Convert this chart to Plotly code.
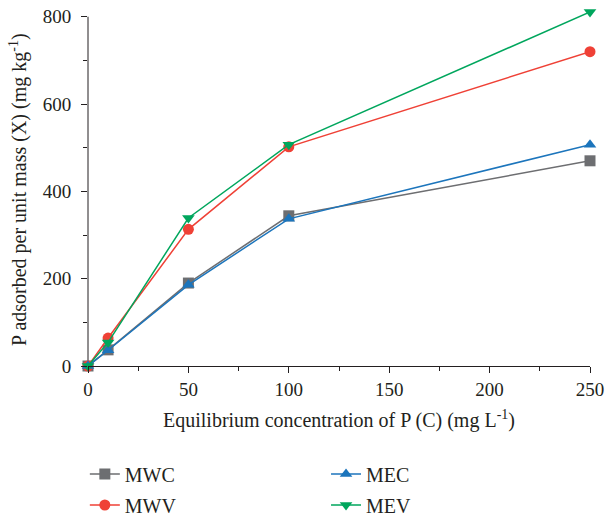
import plotly.graph_objects as go

conc = [0, 10, 50, 100, 250]
mwc = [0, 37, 190, 344, 470]
mwv = [0, 64, 313, 502, 720]
mec = [0, 36, 186, 337, 507]
mev = [0, 54, 339, 507, 811]

names = ["MWC", "MWV", "MEC", "MEV"]
series = [mwc, mwv, mec, mev]
colors = ["#6d6e71", "#ef4136", "#1c75bc", "#00a65d"]
symbols = ["square", "circle", "triangle-up", "triangle-down"]
legends = ["legend", "legend2", "legend3", "legend4"]

FONT = "Liberation Serif"
AX = "#231f20"
YMAX_AXIS = 800
YTOP = 820

fig = go.Figure()
for n, s, c, sym, lg in zip(names, series, colors, symbols, legends):
    fig.add_trace(go.Scatter(
        x=conc, y=s, name=n, mode="lines+markers",
        line=dict(color=c, width=1.5),
        marker=dict(symbol=sym, size=11, color=c),
        cliponaxis=False, legend=lg, showlegend=True,
    ))

def leg(x, y):
    return dict(x=x, y=y, xref="container", yref="container",
                xanchor="left", yanchor="middle",
                font=dict(family=FONT, size=20, color=AX),
                bgcolor="rgba(0,0,0,0)")

fig.add_shape(type="line", xref="paper", yref="y", x0=0, x1=0, y0=0, y1=YMAX_AXIS,
              line=dict(color=AX, width=1), layer="below")

H = 517
W = 606
ML, MR = 88, 16
top_px = 17 - (YTOP - YMAX_AXIS) * (366 - 17) / 800.0
MT = max(0, round(top_px))
plot_w = W - ML - MR
plot_h = H - MT - 151

# y-axis title as a rotated text annotation
fig.add_annotation(
    text="P adsorbed per unit mass (X) (mg kg<sup>-1</sup>)",
    xref="paper", yref="paper",
    x=(18 - ML) / plot_w, y=(H - 151 - 190) / plot_h,
    textangle=-90, showarrow=False,
    xanchor="center", yanchor="middle",
    font=dict(family=FONT, size=20, color=AX),
)

fig.update_layout(
    width=W, height=H,
    margin=dict(l=ML, r=MR, t=MT, b=151, autoexpand=False),
    plot_bgcolor="white", paper_bgcolor="white",
    font=dict(family=FONT, size=19, color=AX),
    showlegend=True,
    legend=leg(0.140, 1 - 474 / H),
    legend2=leg(0.140, 1 - 505 / H),
    legend3=leg(0.538, 1 - 474 / H),
    legend4=leg(0.538, 1 - 505 / H),
    xaxis=dict(
        range=[0, 250], showgrid=False, zeroline=False,
        showline=True, linecolor=AX, linewidth=1,
        ticks="outside", ticklen=6, tickcolor=AX,
        tickvals=[0, 50, 100, 150, 200, 250],
        minor=dict(ticks="outside", ticklen=4, dtick=25, tickcolor=AX),
        tickfont=dict(family=FONT, size=19),
        automargin=False,
        title=dict(text="Equilibrium concentration of P (C) (mg L<sup>-1</sup>)",
                   font=dict(family=FONT, size=20), standoff=14),
    ),
    yaxis=dict(
        range=[0, YTOP], showgrid=False, zeroline=False,
        showline=False, automargin=False,
        ticks="outside", ticklen=6, tickcolor=AX,
        tickvals=[0, 200, 400, 600, 800],
        minor=dict(ticks="outside", ticklen=4, tickvals=[100, 300, 500, 700], tickcolor=AX),
        tickfont=dict(family=FONT, size=19),
        ticklabelstandoff=6,
    ),
)

fig.write_html("out.html")
